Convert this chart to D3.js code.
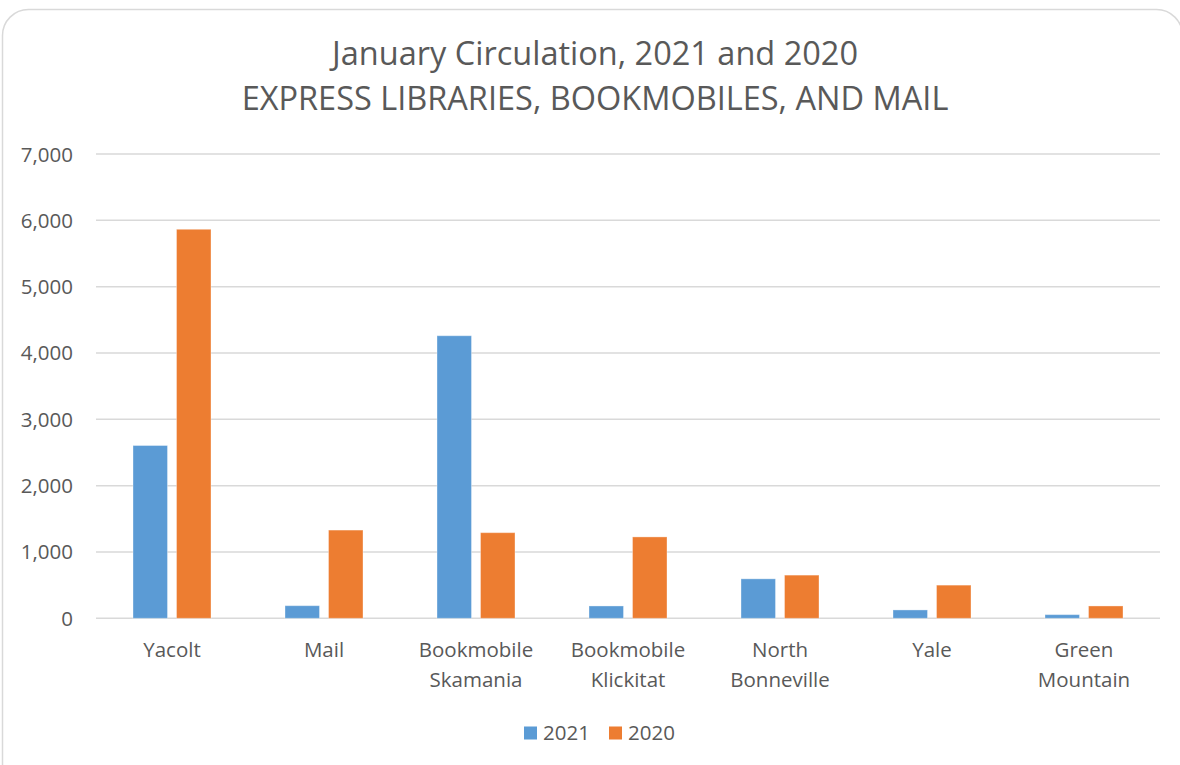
<!DOCTYPE html>
<html>
<head>
<meta charset="utf-8">
<script src="https://cdn.jsdelivr.net/npm/d3@7"></script>
<style>
  html, body { margin: 0; padding: 0; background: #fff; }
  svg { display: block; }
  text { font-family: "Open Sans", sans-serif; fill: #595959; }
</style>
</head>
<body>
<svg id="chart" width="1180" height="765"></svg>
<script>
// chart data
var categories = [["Yacolt"], ["Mail"], ["Bookmobile", "Skamania"], ["Bookmobile", "Klickitat"],
                  ["North", "Bonneville"], ["Yale"], ["Green", "Mountain"]];
var series = ["2021", "2020"];
var values2021 = [2605, 190, 4260, 186, 595, 126, 55];
var values2020 = [5865, 1330, 1291, 1227, 651, 500, 186];
var yTicks = [0, 1000, 2000, 3000, 4000, 5000, 6000, 7000];
var titleLines = ["January Circulation, 2021 and 2020", "EXPRESS LIBRARIES, BOOKMOBILES, AND MAIL"];

var colors = { "2021": "#5B9BD5", "2020": "#ED7D31" };
var svg = d3.select("#chart");

/* outer frame of the chart */
svg.append("rect")
    .attr("x", 2.5).attr("y", 9.5)
    .attr("width", 1180).attr("height", 780)
    .attr("rx", 26).attr("ry", 26)
    .attr("fill", "#fff").attr("stroke", "#d9d9d9").attr("stroke-width", 1.5);

var plot = { left: 96, right: 1160, top: 154, bottom: 618.3 };

var x = d3.scaleBand().domain(d3.range(categories.length)).range([plot.left, plot.right]).padding(0);
var xs = d3.scaleBand().domain(series).range([37, 115]).paddingInner(0.207).paddingOuter(0);
var y = d3.scaleLinear().domain([0, 7000]).range([plot.bottom, plot.top]);

/* gridlines */
svg.append("g").selectAll("line").data(yTicks).enter().append("line")
    .attr("x1", plot.left).attr("x2", plot.right)
    .attr("y1", function (d) { return y(d); }).attr("y2", function (d) { return y(d); })
    .attr("stroke", "#d9d9d9").attr("stroke-width", 1.5);

/* y axis labels */
var fmt = d3.format(",");
svg.append("g").selectAll("text").data(yTicks).enter().append("text")
    .attr("x", 73).attr("y", function (d) { return y(d) + 7.5; })
    .attr("text-anchor", "end").attr("font-size", 20.5)
    .text(function (d) { return fmt(d); });

/* bars */
var rows = categories.map(function (c, i) {
    return { i: i, vals: [{ s: "2021", v: values2021[i] }, { s: "2020", v: values2020[i] }] };
});
var groups = svg.append("g").selectAll("g").data(rows).enter().append("g")
    .attr("transform", function (d) { return "translate(" + x(d.i) + ",0)"; });
groups.selectAll("rect").data(function (d) { return d.vals; }).enter().append("rect")
    .attr("x", function (d) { return xs(d.s); })
    .attr("width", xs.bandwidth())
    .attr("y", function (d) { return y(d.v); })
    .attr("height", function (d) { return y(0) - y(d.v); })
    .attr("fill", function (d) { return colors[d.s]; })
    .attr("stroke", "#fff").attr("stroke-opacity", 0.35).attr("stroke-width", 1);

/* category labels */
var xl = svg.append("g").selectAll("text").data(categories).enter().append("text")
    .attr("text-anchor", "middle").attr("font-size", 20.5)
    .attr("transform", function (d, i) { return "translate(" + (x(i) + x.bandwidth() / 2) + ",657)"; });
xl.selectAll("tspan").data(function (d) { return d; }).enter().append("tspan")
    .attr("x", 0).attr("y", function (d, i) { return i * 29.5; })
    .text(function (d) { return d; });

/* title */
svg.append("g").selectAll("text").data(titleLines).enter().append("text")
    .attr("x", 595).attr("y", function (d, i) { return 65 + i * 45; })
    .attr("text-anchor", "middle").attr("font-size", 32.5)
    .text(function (d) { return d; });

/* legend */
var legendX = [524, 609];
var lg = svg.append("g").selectAll("g").data(series).enter().append("g")
    .attr("transform", function (d, i) { return "translate(" + legendX[i] + ",726.5)"; });
lg.append("rect").attr("width", 13).attr("height", 13)
    .attr("fill", function (d) { return colors[d]; });
lg.append("text").attr("x", 19).attr("y", 13).attr("font-size", 20.5)
    .text(function (d) { return d; });
</script>
</body>
</html>
